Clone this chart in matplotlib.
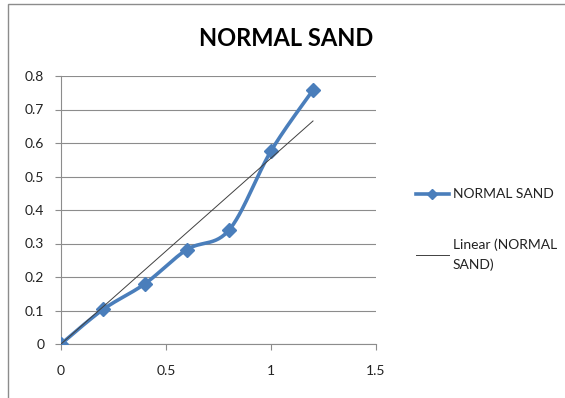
import numpy as np
import matplotlib.pyplot as plt
from matplotlib.patches import Rectangle
from matplotlib.lines import Line2D

plt.rcParams['font.family'] = ['Lato', 'DejaVu Sans']

# data
x_vals = [0, 0.2, 0.4, 0.6, 0.8, 1.0, 1.2]
y_vals = [0, 0.103, 0.18, 0.282, 0.34, 0.576, 0.758]
series_name = 'NORMAL SAND'
x_ticks = [0, 0.5, 1, 1.5]
y_ticks = [0, 0.1, 0.2, 0.3, 0.4, 0.5, 0.6, 0.7, 0.8]

blue = '#4A7EBB'


def smooth_path(xs, ys, n=30):
    # excel-like smoothed line: bezier segments through points (catmull-rom style)
    p = np.column_stack([xs, ys]).astype(float)
    out = []
    for i in range(len(p) - 1):
        p0 = p[i - 1] if i > 0 else p[i]
        p1, p2 = p[i], p[i + 1]
        p3 = p[i + 2] if i + 2 < len(p) else p[i + 1]
        c1 = p1 + (p2 - p0) / 6
        c2 = p2 - (p3 - p1) / 6
        t = np.linspace(0, 1, n)[:, None]
        seg = (1 - t) ** 3 * p1 + 3 * (1 - t) ** 2 * t * c1 + 3 * (1 - t) * t ** 2 * c2 + t ** 3 * p2
        out.append(seg if i == 0 else seg[1:])
    return np.vstack(out)


fig = plt.figure(figsize=(5.65, 3.98), dpi=100)
fig.patches.append(Rectangle((8 / 565, -0.1), 1.2, 1 - 4 / 398 + 0.1, transform=fig.transFigure,
                             fill=False, edgecolor='#8c8c8c', linewidth=1.0))

ax = fig.add_axes([61 / 565, 1 - 344 / 398, 315 / 565, 268 / 398])

curve = smooth_path(x_vals, y_vals)
ax.plot(curve[:, 0], curve[:, 1], color=blue, linewidth=2.6, zorder=3)
ax.plot(x_vals, y_vals, linestyle='none', marker='D', markersize=7.5, color=blue, zorder=4)

# linear trendline through origin (excel: set intercept = 0)
xa = np.array(x_vals)
ya = np.array(y_vals)
slope = (xa * ya).sum() / (xa * xa).sum()
tx = np.array([min(x_vals), max(x_vals)])
ax.plot(tx, slope * tx, color='#404040', linewidth=0.7, zorder=5)

ax.set_xlim(0, 1.5)
ax.set_ylim(0, 0.8)
ax.set_xticks(x_ticks)
ax.set_xticklabels(['0', '0.5', '1', '1.5'])
ax.set_yticks(y_ticks)
ax.set_yticklabels(['0', '0.1', '0.2', '0.3', '0.4', '0.5', '0.6', '0.7', '0.8'])
ax.grid(axis='y', color='#8c8c8c', linewidth=0.8)
ax.set_axisbelow(True)
for s in ['top', 'right']:
    ax.spines[s].set_visible(False)
for s in ['left', 'bottom']:
    ax.spines[s].set_color('#8c8c8c')
    ax.spines[s].set_linewidth(0.8)
ax.tick_params(axis='both', colors='#8c8c8c', labelcolor='#222222', labelsize=10,
               length=4, width=0.8, direction='out')
ax.tick_params(axis='x', pad=11)
ax.tick_params(axis='y', pad=8)
for lab in ax.get_xticklabels() + ax.get_yticklabels():
    lab.set_clip_on(False)

fig.text(286 / 565, 1 - 38 / 398, series_name, ha='center', va='center',
         fontsize=17, fontweight='bold', color='black')

handles = [Line2D([], [], color=blue, linewidth=2.6, marker='D', markersize=5.5),
           Line2D([], [], color='#404040', linewidth=0.7)]
leg = fig.legend(handles, [series_name, 'Linear (NORMAL\nSAND)'], loc='upper left',
                 bbox_to_anchor=(403 / 565, 1 - 176 / 398), frameon=False, fontsize=10,
                 handlelength=2.4, handletextpad=0.3, labelspacing=2.7)
for t in leg.get_texts():
    t.set_linespacing(1.75)
    t.set_color('#222222')

fig.savefig('out.png', dpi=100)
